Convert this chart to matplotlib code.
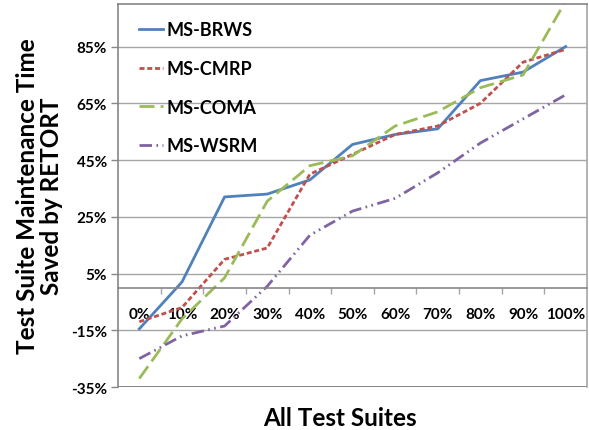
import matplotlib
matplotlib.use("Agg")
import matplotlib.pyplot as plt
from matplotlib.ticker import FixedLocator, NullFormatter

plt.rcParams['font.family'] = ['Lato', 'DejaVu Sans']
plt.rcParams['font.weight'] = 'bold'

categories = ['0%', '10%', '20%', '30%', '40%', '50%', '60%', '70%', '80%', '90%', '100%']
ms_brws = [-14.5, 2, 32, 33, 38, 50.5, 54, 56, 73, 76, 85]
ms_cmrp = [-12, -7, 10, 14, 40, 47, 54, 57, 65, 79.5, 84]
ms_coma = [-32, -11, 3.5, 30.5, 43, 46.5, 57, 62, 70.5, 75, 101]
ms_wsrm = [-25, -17, -13.5, 0.5, 18.5, 27, 31.5, 40.5, 51, 59.5, 68]
y_ticks = [-35, -15, 5, 25, 45, 65, 85]

fig = plt.figure(figsize=(5.89, 4.31), dpi=100)
ax = fig.add_axes([118/589, 1-388/431, 469/589, 383/431])

x = list(range(len(categories)))
lw = 2.0
ax.plot(x, ms_brws, color='#4F81BD', lw=lw, label='MS-BRWS', solid_joinstyle='round')
ax.plot(x, ms_cmrp, color='#C0504D', lw=lw, linestyle=(0, (1.8, 1.0)), label='MS-CMRP')
ax.plot(x, ms_coma, color='#9BBB59', lw=lw, linestyle=(0, (5.4, 2.2)), label='MS-COMA')
ax.plot(x, ms_wsrm, color='#8064A2', lw=lw, linestyle=(0, (4.5, 1.6, 0.6, 1.6, 0.6, 1.6)), label='MS-WSRM')

ax.set_xlim(-0.5, len(categories) - 0.5)
ax.set_ylim(-35, 100)

ax.set_yticks(y_ticks)
ax.set_yticklabels([f'{v}%' for v in y_ticks])
ax.yaxis.grid(True, color='#A6A6A6', lw=1.0)
ax.set_axisbelow(True)

ax.set_xticks(x)
ax.set_xticklabels(categories)
ax.xaxis.set_minor_locator(FixedLocator([i + 0.5 for i in range(len(categories) - 1)]))
ax.xaxis.set_minor_formatter(NullFormatter())
ax.tick_params(axis='x', which='major', length=0, pad=14, labelsize=11)
ax.tick_params(axis='x', which='minor', length=4, width=1, color='#A6A6A6', direction='out')
ax.tick_params(axis='y', length=5, width=1, color='#868686', labelsize=11, pad=3)

for lab in ax.get_xticklabels() + ax.get_yticklabels():
    lab.set_fontweight('bold')

ax.spines['bottom'].set_position(('data', 0))
ax.spines['bottom'].set_color('#868686')
ax.spines['left'].set_color('#868686')
ax.spines['top'].set_color('#868686')
ax.spines['right'].set_color('#A6A6A6')
for s in ax.spines.values():
    s.set_linewidth(1.2)
ax.axhline(-35, color='#868686', lw=1.4, zorder=0.6)

ax.set_ylabel('Test Suite Maintenance Time\nSaved by RETORT', fontsize=17.5, fontweight='bold',
              linespacing=1.05)
ax.yaxis.set_label_coords(-0.118, 0.5)
ax.set_xlabel('All Test Suites', fontsize=17.5, fontweight='bold')
ax.xaxis.label.set_va('baseline')
ax.xaxis.set_label_coords(0.473, -0.099)

leg = ax.legend(loc='upper left', bbox_to_anchor=(0.03, 0.974), frameon=False,
                fontsize=13, handlelength=1.3, handletextpad=0.2, labelspacing=1.2,
                borderaxespad=0)
for t in leg.get_texts():
    t.set_fontweight('bold')

fig.savefig('out.png', dpi=100)
